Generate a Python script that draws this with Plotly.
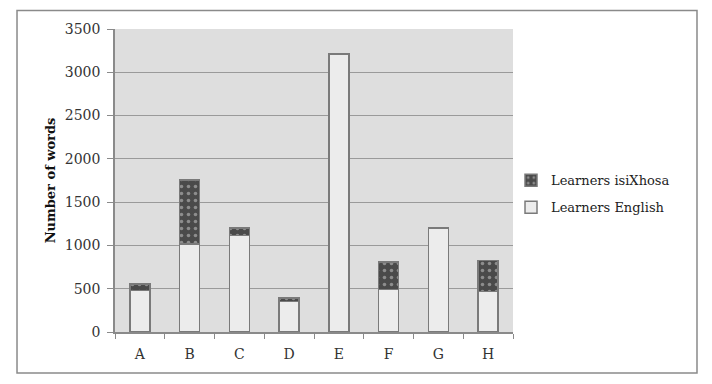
import plotly.graph_objects as go

categories = ["A", "B", "C", "D", "E", "F", "G", "H"]
english = [480, 1015, 1115, 350, 3210, 490, 1200, 470]
isixhosa = [75, 740, 85, 45, 0, 320, 0, 355]
y_ticks = [0, 500, 1000, 1500, 2000, 2500, 3000, 3500]

FONT = "DejaVu Serif"

fig = go.Figure()
fig.add_trace(go.Bar(
    x=categories, y=english, name="Learners English",
    marker=dict(color="#ececec", line=dict(color="#7a7a7a", width=1.5)),
    legendgroup="en", legendrank=2,
))
fig.add_trace(go.Bar(
    x=categories, y=isixhosa, name="Learners isiXhosa",
    marker=dict(color="#4a4a4a", line=dict(color="#7a7a7a", width=1.5),
                pattern=dict(shape=".", fgcolor="#d0d0d0", bgcolor="#4a4a4a",
                             size=7, solidity=0.2, fillmode="overlay")),
    legendgroup="xh", legendrank=1,
))

fig.update_layout(
    barmode="stack",
    bargap=0.6,
    width=712, height=384,
    margin=dict(l=115, r=199, t=29, b=52),
    paper_bgcolor="white",
    plot_bgcolor="#dedede",
    font=dict(family=FONT, size=14, color="#333333"),
    showlegend=True,
    legend=dict(x=0.995, y=0.55, xanchor="left", yanchor="top",
                traceorder="grouped", tracegroupgap=7,
                font=dict(family=FONT, size=13, color="#222222"),
                itemwidth=30, bgcolor="rgba(0,0,0,0)"),
    xaxis=dict(showgrid=False, showline=True, linecolor="#8a8a8a", linewidth=1.5,
               ticks="outside", tickson="boundaries", ticklen=5, tickcolor="#8a8a8a",
               ticklabelstandoff=8,
               tickfont=dict(family=FONT, size=14, color="#333333"),
               range=[-0.5, 7.5]),
    yaxis=dict(range=[0, 3500], tickvals=y_ticks, showgrid=True,
               gridcolor="#9a9a9a", gridwidth=1.2,
               showline=True, linecolor="#8a8a8a", linewidth=1.5,
               ticks="outside", ticklen=6, tickcolor="#8a8a8a",
               ticklabelstandoff=4,
               tickfont=dict(family=FONT, size=14, color="#333333"),
               zeroline=False,
               title=dict(text="<b>Number of words</b>",
                          font=dict(family=FONT, size=13, color="#111111"),
                          standoff=6)),
    shapes=[dict(type="rect", xref="paper", yref="paper",
                 x0=-0.2462, x1=1.4623, y0=-0.1353, y1=1.061,
                 line=dict(color="#8a8a8a", width=1.5), fillcolor="rgba(0,0,0,0)",
                 layer="below")],
)

fig.write_html("out.html")
